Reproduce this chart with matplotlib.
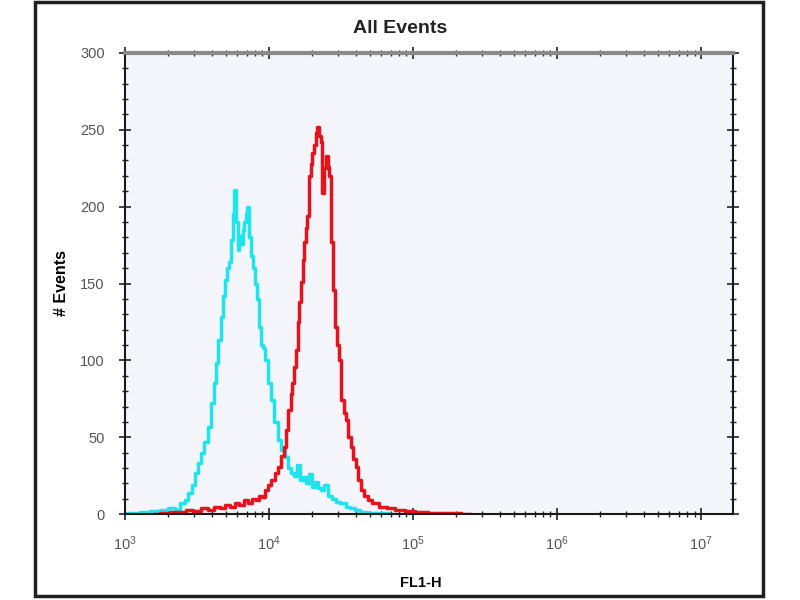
import matplotlib
matplotlib.use('Agg')
import matplotlib.pyplot as plt
from matplotlib.patches import Rectangle
from matplotlib.ticker import LogLocator, MultipleLocator

plt.rcParams['font.family'] = ['Liberation Sans', 'DejaVu Sans']

# FL1-H channel positions given as log10 values, with event counts
cyan_log = [3.000, 3.069, 3.139, 3.208, 3.278, 3.326, 3.368, 3.403, 3.431, 3.451,
            3.479, 3.500, 3.521, 3.542, 3.563, 3.590, 3.611, 3.625, 3.639, 3.660,
            3.674, 3.688, 3.701, 3.715, 3.729, 3.743, 3.757, 3.764, 3.778, 3.792,
            3.799, 3.813, 3.826, 3.833, 3.847, 3.854, 3.868, 3.882, 3.896, 3.910,
            3.924, 3.938, 3.951, 3.965, 3.986, 4.007, 4.028, 4.049, 4.076, 4.097,
            4.125, 4.146, 4.167, 4.188, 4.208, 4.229, 4.250, 4.271, 4.292, 4.313,
            4.333, 4.354, 4.375, 4.396, 4.424, 4.451, 4.479, 4.514, 4.549, 4.583,
            4.618, 4.653, 4.701, 4.771, 4.875]
cyan_cnt = [0.5, 1, 1.5, 2, 2.5, 4, 3, 7, 9, 14,
            19, 27, 33, 40, 47, 57, 72, 85, 98, 113,
            128, 142, 152, 160, 164, 178, 195, 211, 190, 172,
            181, 176, 185, 190, 195, 200, 180, 168, 160, 150,
            140, 122, 110, 108, 100, 85, 74, 60, 48, 42,
            37, 30, 27, 25, 32, 22, 24, 20, 26, 18,
            21, 17, 16, 19, 12, 10, 8, 7, 5, 4,
            2.5, 1.5, 1, 0.5, 0]

red_log = [3.208, 3.278, 3.347, 3.403, 3.451, 3.500, 3.556, 3.604, 3.639, 3.681,
           3.715, 3.750, 3.778, 3.813, 3.840, 3.868, 3.896, 3.924, 3.944, 3.965,
           3.986, 4.007, 4.028, 4.056, 4.076, 4.097, 4.111, 4.125, 4.146, 4.160,
           4.167, 4.181, 4.194, 4.208, 4.215, 4.229, 4.243, 4.250, 4.264, 4.271,
           4.285, 4.299, 4.306, 4.319, 4.333, 4.340, 4.354, 4.368, 4.375, 4.389,
           4.403, 4.417, 4.424, 4.438, 4.451, 4.465, 4.479, 4.493, 4.514, 4.528,
           4.542, 4.563, 4.576, 4.597, 4.611, 4.632, 4.653, 4.674, 4.701, 4.736,
           4.792, 4.840, 4.910, 4.979, 5.049, 5.153, 5.257, 5.396]
red_cnt = [0, 1, 1.5, 1.5, 3, 2, 4, 3, 5, 4,
           6, 5, 7, 6, 9, 7, 10, 9, 12, 11,
           16, 19, 22, 27, 31, 38, 44, 55, 68, 78,
           85, 96, 107, 125, 138, 151, 165, 177, 186, 194,
           220, 228, 235, 240, 248, 252, 246, 242, 209, 225,
           233, 226, 220, 177, 146, 122, 110, 100, 74, 66,
           61, 50, 44, 36, 31, 22, 16, 12, 9, 7,
           5, 4, 3, 2, 1.5, 1, 0.5, 0]

x_ticks = [1e3, 1e4, 1e5, 1e6, 1e7]
y_ticks = [0, 50, 100, 150, 200, 250, 300]

fig = plt.figure(figsize=(8, 6), dpi=100)
fig.patch.set_facecolor('white')
# outer frame of the picture
fig.patches.append(Rectangle((0.044, 0.006), 0.91, 0.99, transform=fig.transFigure,
                             fill=False, edgecolor='#202020', linewidth=2.5))

ax = fig.add_axes([0.156, 0.143, 0.76, 0.769])
ax.set_facecolor('#f4f4fb')

ax.plot([10 ** v for v in cyan_log], cyan_cnt, color='#1fe4ee', lw=2.5,
        drawstyle='steps-mid')
ax.plot([10 ** v for v in red_log], red_cnt, color='#e6121c', lw=2.5,
        drawstyle='steps-mid')

ax.set_xscale('log')
ax.set_xlim(1e3, 10 ** 7.22)
ax.set_ylim(0, 300)
ax.set_xticks(x_ticks)
ax.xaxis.set_minor_locator(LogLocator(base=10, subs=range(2, 10), numticks=20))
ax.set_yticks(y_ticks)
ax.yaxis.set_minor_locator(MultipleLocator(10))

ax.tick_params(which='major', direction='inout', length=9, width=1.2,
               colors='#222', labelsize=10.5, labelcolor='#555')
ax.tick_params(which='minor', direction='inout', length=5, width=1.0, colors='#222')
ax.tick_params(axis='x', which='both', top=True)
ax.tick_params(axis='y', which='both', right=True)
ax.tick_params(axis='x', pad=10)
ax.tick_params(axis='y', pad=10)

for side in ['left', 'bottom', 'right']:
    ax.spines[side].set_color('#1a1a1a')
    ax.spines[side].set_linewidth(1.5)
ax.spines['top'].set_color('#8a8a8a')
ax.spines['top'].set_linewidth(3)

ax.set_xlabel('FL1-H', fontsize=10.5, fontweight='bold')
ax.xaxis.set_label_coords(0.487, -0.135)
ax.set_ylabel('# Events', fontsize=11.5, fontweight='bold', labelpad=8)
fig.text(0.5, 0.953, 'All Events', ha='center', va='center', fontsize=14,
         fontweight='bold', color='#222')

fig.savefig('out.png', dpi=100)
